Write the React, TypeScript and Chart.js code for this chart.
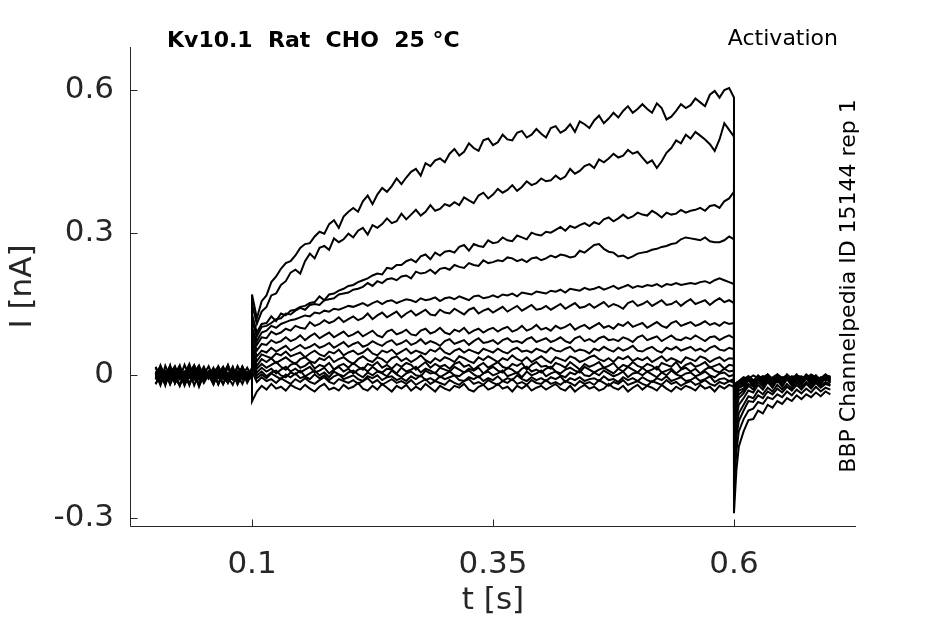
import { useEffect, useRef } from "react";
import { Chart, registerables } from "chart.js";

Chart.register(...registerables);

// sample times (s); 0.1 and 0.6 appear twice for the step edges
const times = [
  0, 0.005, 0.01, 0.015, 0.02, 0.025, 0.03, 0.035, 0.04, 0.045,
  0.05, 0.055, 0.06, 0.065, 0.07, 0.075, 0.08, 0.085, 0.09, 0.095, 0.1,
  0.1,
  0.105, 0.11, 0.115, 0.12, 0.125, 0.13, 0.135, 0.14, 0.145, 0.15,
  0.155, 0.16, 0.165, 0.17, 0.175, 0.18, 0.185, 0.19, 0.195, 0.2,
  0.205, 0.21, 0.215, 0.22, 0.225, 0.23, 0.235, 0.24, 0.245, 0.25,
  0.255, 0.26, 0.265, 0.27, 0.275, 0.28, 0.285, 0.29, 0.295, 0.3,
  0.305, 0.31, 0.315, 0.32, 0.325, 0.33, 0.335, 0.34, 0.345, 0.35,
  0.355, 0.36, 0.365, 0.37, 0.375, 0.38, 0.385, 0.39, 0.395, 0.4,
  0.405, 0.41, 0.415, 0.42, 0.425, 0.43, 0.435, 0.44, 0.445, 0.45,
  0.455, 0.46, 0.465, 0.47, 0.475, 0.48, 0.485, 0.49, 0.495, 0.5,
  0.505, 0.51, 0.515, 0.52, 0.525, 0.53, 0.535, 0.54, 0.545, 0.55,
  0.555, 0.56, 0.565, 0.57, 0.575, 0.58, 0.585, 0.59, 0.595, 0.6,
  0.6,
  0.6025, 0.605, 0.61, 0.615, 0.62, 0.625, 0.63, 0.635, 0.64, 0.645,
  0.65, 0.655, 0.66, 0.665, 0.67, 0.675, 0.68, 0.685, 0.69, 0.695, 0.7,
];

// current traces in pA, same order as times
const sweep01 = [
  6, -16, 20, -4, 9, -22, 3, 24, -8, 1,
  17, -6, 8, -19, 4, 21, -2, -14, 7, -3, 16,
  170,
  120, 156, 168, 196, 208, 224, 236, 240, 252, 268,
  276, 278, 292, 302, 298, 318, 326, 310, 334, 344,
  352, 344, 366, 378, 360, 380, 394, 386, 398, 414,
  402, 416, 428, 434, 420, 446, 440, 452, 456, 448,
  466, 476, 462, 470, 488, 478, 472, 494, 498, 484,
  490, 506, 496, 494, 510, 514, 500, 506, 518, 508,
  500, 520, 524, 510, 516, 528, 512, 534, 528, 520,
  536, 546, 530, 540, 552, 542, 556, 566, 552, 560,
  570, 560, 552, 572, 562, 538, 544, 556, 570, 562,
  568, 582, 574, 566, 590, 598, 584, 600, 604, 584,
  -290,
  -200, -150, -118, -94, -92, -74, -80, -62, -68, -54,
  -60, -48, -54, -42, -50, -40, -46, -36, -44, -34, -40,
];
const sweep02 = [
  -8, 14, -3, 19, -17, 2, -6, 16, 0, -21,
  5, 8, -14, 3, -4, 22, -7, 1, 9, -16, 4,
  150,
  108, 134, 144, 168, 172, 190, 198, 216, 222, 214,
  240, 256, 246, 268, 272, 264, 288, 280, 286, 298,
  290, 304, 310, 296, 316, 310, 318, 330, 320, 324,
  340, 328, 338, 348, 336, 344, 358, 346, 350, 360,
  356, 364, 358, 374, 368, 362, 378, 384, 372, 380,
  392, 384, 390, 400, 388, 396, 408, 400, 404, 414,
  408, 410, 420, 412, 418, 434, 424, 430, 440, 444,
  436, 454, 448, 456, 466, 458, 462, 474, 466, 470,
  458, 446, 452, 436, 450, 468, 478, 494, 488, 506,
  498, 512, 504, 496, 486, 472, 496, 530, 516, 502,
  -235,
  -160, -118, -92, -74, -70, -56, -60, -46, -50, -40,
  -46, -34, -42, -30, -38, -28, -36, -24, -34, -26, -30,
];
const sweep03 = [
  9, -5, 7, -19, 3, 16, -8, 2, 21, -3,
  -7, 6, -16, 4, 18, -2, -9, 8, -4, 1, -6,
  128,
  90, 108, 110, 124, 114, 130, 126, 136, 138, 144,
  146, 152, 154, 166, 158, 170, 172, 178, 182, 188,
  190, 196, 200, 204, 210, 214, 212, 226, 224, 232,
  232, 240, 244, 238, 250, 254, 244, 258, 252, 260,
  262, 258, 270, 274, 262, 276, 272, 270, 284, 278,
  280, 290, 284, 282, 294, 290, 286, 300, 296, 294,
  302, 300, 306, 312, 304, 314, 310, 316, 320, 314,
  322, 318, 328, 332, 324, 330, 338, 330, 334, 342,
  338, 336, 346, 340, 332, 342, 338, 340, 348, 342,
  346, 348, 352, 346, 356, 358, 352, 366, 372, 386,
  -195,
  -130, -96, -74, -54, -56, -42, -48, -34, -40, -28,
  -36, -24, -32, -20, -30, -18, -28, -16, -26, -18, -22,
];
const sweep04 = [
  -18, 4, -5, 9, -2, -21, 7, -4, 16, -9,
  2, 19, -6, 0, 8, -16, 5, -3, 18, -7, 1,
  115,
  82, 102, 104, 110, 118, 120, 130, 128, 136, 142,
  138, 148, 150, 148, 158, 160, 162, 170, 172, 174,
  180, 182, 186, 194, 188, 198, 194, 202, 204, 200,
  208, 210, 204, 218, 214, 216, 222, 214, 224, 226,
  222, 232, 228, 226, 236, 232, 230, 242, 236, 238,
  242, 240, 248, 246, 240, 244, 238, 246, 248, 242,
  246, 252, 248, 254, 252, 248, 250, 262, 258, 266,
  274, 276, 266, 260, 258, 250, 252, 246, 250, 256,
  258, 260, 264, 266, 270, 272, 276, 278, 286, 290,
  288, 286, 284, 290, 282, 280, 280, 284, 292, 286,
  -165,
  -110, -80, -62, -44, -48, -32, -40, -26, -34, -20,
  -30, -18, -28, -14, -26, -14, -24, -12, -22, -14, -20,
];
const sweep05 = [
  3, 19, -8, 5, -6, 17, -1, -16, 6, 21,
  -4, 2, -19, 8, -3, 16, -7, 4, -9, 7, -2,
  100,
  72, 90, 94, 104, 100, 108, 112, 116, 118, 122,
  126, 124, 132, 130, 136, 134, 140, 138, 142, 146,
  144, 148, 152, 146, 152, 156, 150, 156, 158, 152,
  156, 160, 158, 154, 162, 158, 160, 164, 156, 162,
  164, 160, 166, 162, 158, 166, 168, 162, 164, 168,
  164, 170, 168, 172, 166, 174, 172, 170, 176, 174,
  172, 178, 176, 180, 174, 182, 180, 178, 184, 180,
  182, 186, 180, 184, 188, 182, 186, 190, 184, 188,
  186, 190, 188, 192, 186, 192, 190, 194, 190, 192,
  194, 192, 196, 198, 194, 200, 204, 200, 196, 192,
  -135,
  -90, -62, -48, -32, -36, -20, -30, -14, -26, -10,
  -24, -8, -22, -8, -20, -6, -20, -8, -18, -6, -16,
];
const sweep06 = [
  -4, 7, -21, 16, 1, -7, 22, -2, -9, 5,
  8, -5, 3, -18, 9, 0, -6, 19, -3, 6, -8,
  92,
  64, 80, 78, 92, 86, 90, 98, 94, 104, 100,
  98, 112, 104, 108, 116, 110, 114, 122, 112, 118,
  124, 116, 120, 130, 118, 126, 132, 122, 128, 134,
  122, 130, 136, 126, 132, 138, 128, 126, 138, 132,
  130, 140, 134, 128, 138, 142, 130, 136, 140, 132,
  138, 144, 134, 140, 146, 136, 142, 148, 138, 140,
  146, 138, 144, 150, 140, 146, 152, 142, 144, 150,
  142, 148, 154, 144, 150, 146, 140, 152, 156, 146,
  150, 156, 146, 152, 158, 148, 150, 156, 146, 154,
  160, 150, 154, 158, 148, 156, 162, 154, 158, 152,
  -112,
  -72, -48, -38, -22, -30, -14, -24, -8, -22, -6,
  -20, -4, -18, -6, -18, -4, -16, -6, -16, -4, -14,
];
const sweep07 = [
  16, -6, 4, -18, 8, 0, -5, 19, -8, 7,
  -2, 5, -16, 2, 9, -4, -20, 6, 1, -7, 3,
  82,
  52, 66, 64, 74, 68, 72, 80, 72, 76, 84,
  74, 82, 88, 78, 84, 90, 80, 86, 92, 82,
  86, 92, 82, 88, 94, 84, 80, 92, 96, 86,
  90, 96, 86, 84, 94, 98, 88, 92, 100, 90,
  86, 96, 92, 100, 88, 94, 98, 90, 96, 100,
  92, 98, 102, 92, 96, 104, 94, 98, 106, 96,
  100, 94, 104, 98, 102, 108, 96, 102, 106, 98,
  104, 110, 100, 104, 98, 108, 104, 112, 102, 106,
  110, 100, 106, 112, 104, 100, 110, 114, 104, 108,
  112, 104, 108, 114, 106, 110, 104, 112, 108, 110,
  -95,
  -60, -40, -32, -18, -24, -8, -20, -6, -18, -2,
  -16, -4, -14, -2, -14, -6, -12, -2, -14, -4, -12,
];
const sweep08 = [
  -8, 21, -4, 6, -16, 9, 2, -19, 5, -1,
  18, -7, 3, -5, 16, -9, 4, 0, -18, 7, -3,
  72,
  40, 52, 48, 58, 50, 56, 62, 52, 58, 64,
  56, 60, 66, 58, 62, 68, 58, 64, 70, 60,
  66, 70, 60, 64, 72, 66, 62, 70, 74, 64,
  68, 74, 64, 68, 76, 66, 72, 68, 62, 72,
  76, 66, 70, 74, 64, 72, 78, 68, 70, 74,
  66, 74, 78, 70, 72, 68, 76, 80, 70, 74,
  78, 70, 74, 80, 72, 68, 78, 82, 72, 76,
  70, 78, 82, 74, 76, 72, 80, 76, 70, 80,
  84, 74, 78, 82, 72, 78, 84, 76, 74, 80,
  76, 84, 78, 72, 80, 82, 74, 80, 84, 78,
  -78,
  -50, -32, -28, -10, -22, -6, -18, -2, -16, -4,
  -14, 0, -12, -4, -12, -2, -14, -4, -10, 0, -10,
];
const sweep09 = [
  5, -16, 8, -3, 18, -7, 4, -21, 9, -5,
  2, 7, -8, 19, -2, -6, 16, -18, 3, 6, -4,
  60,
  30, 44, 40, 36, 46, 42, 50, 40, 44, 48,
  38, 46, 52, 44, 40, 50, 46, 54, 42, 48,
  52, 44, 48, 56, 46, 42, 52, 48, 54, 44,
  50, 56, 46, 52, 48, 44, 54, 50, 58, 48,
  44, 52, 56, 48, 54, 50, 46, 56, 52, 48,
  56, 50, 46, 54, 58, 50, 52, 48, 56, 52,
  48, 58, 52, 50, 56, 60, 50, 54, 52, 46,
  56, 52, 60, 54, 50, 58, 52, 56, 62, 52,
  50, 56, 60, 52, 48, 58, 54, 60, 52, 56,
  60, 52, 56, 50, 58, 62, 54, 52, 58, 55,
  -62,
  -40, -26, -22, -8, -18, -2, -14, -6, -12, 0,
  -14, -4, -10, 2, -12, -4, -10, 0, -12, -2, -8,
];
const sweep10 = [
  -19, 3, 9, -6, 2, 21, -9, 6, -4, 16,
  -7, 1, 8, -18, 4, -2, 18, -8, 5, -5, 0,
  50,
  20, 34, 28, 36, 26, 32, 38, 30, 24, 34,
  38, 30, 26, 36, 32, 40, 28, 34, 38, 30,
  24, 34, 40, 32, 28, 38, 34, 26, 36, 40,
  30, 36, 28, 34, 42, 32, 26, 36, 30, 38,
  34, 28, 40, 36, 30, 26, 38, 32, 40, 34,
  28, 36, 32, 42, 34, 30, 38, 28, 34, 40,
  32, 26, 38, 34, 30, 40, 36, 28, 32, 38,
  42, 34, 30, 36, 28, 38, 34, 40, 30, 36,
  32, 38, 28, 34, 40, 30, 36, 32, 26, 38,
  34, 30, 40, 36, 28, 34, 38, 30, 36, 35,
  -52,
  -32, -22, -18, -4, -14, -8, -12, 0, -10, -6,
  -12, 2, -8, -4, -12, 0, -8, -6, -10, 0, -6,
];
const sweep11 = [
  7, -4, -18, 5, 19, -8, 1, 9, -21, 4,
  6, -2, 16, -6, 3, -9, 8, -3, 18, -5, 2,
  40,
  14, 24, 16, 22, 28, 18, 12, 22, 26, 16,
  20, 28, 14, 22, 18, 26, 12, 20, 24, 16,
  26, 18, 12, 24, 20, 28, 16, 22, 14, 24,
  18, 26, 22, 12, 20, 28, 16, 24, 18, 22,
  14, 24, 28, 18, 22, 12, 20, 26, 16, 22,
  28, 18, 14, 24, 20, 26, 12, 22, 28, 18,
  20, 14, 26, 22, 16, 28, 20, 12, 24, 18,
  22, 28, 16, 20, 26, 14, 22, 18, 28, 20,
  16, 24, 20, 12, 26, 22, 18, 28, 14, 22,
  26, 18, 22, 28, 16, 20, 24, 14, 22, 20,
  -45,
  -28, -18, -14, -2, -12, -6, -10, 2, -8, -4,
  -12, 0, -6, -8, -10, 2, -6, -4, -10, 0, -4,
];
const sweep12 = [
  -3, 16, -7, 21, -16, 3, 8, -5, 1, -19,
  9, -4, 6, 18, -8, 2, -6, 19, -1, -9, 5,
  32,
  6, 16, 8, 14, 4, 12, 18, 8, 14, 6,
  12, 18, 6, 10, 16, 4, 12, 18, 8, 14,
  4, 12, 16, 8, 18, 10, 6, 14, 12, 4,
  16, 8, 12, 18, 6, 14, 10, 4, 16, 12,
  8, 18, 12, 6, 14, 10, 16, 4, 12, 18,
  10, 6, 16, 12, 4, 14, 18, 8, 12, 6,
  14, 18, 8, 4, 12, 16, 10, 6, 18, 12,
  6, 12, 16, 10, 4, 14, 8, 18, 12, 6,
  16, 8, 12, 18, 6, 10, 14, 4, 12, 16,
  8, 14, 4, 12, 18, 10, 6, 14, 8, 10,
  -38,
  -24, -16, -10, -6, -12, 0, -8, -4, -10, 2,
  -6, -8, -4, 0, -10, -4, -2, -8, -6, 2, -6,
];
const sweep13 = [
  18, -5, 4, -9, 7, -2, -18, 6, 21, -7,
  -4, 9, -1, 5, -19, 3, 8, -6, 0, 16, -3,
  25,
  0, 8, -2, 6, 10, 0, -4, 6, 2, 10,
  -2, 4, 10, 0, 6, -4, 8, 2, -2, 6,
  10, 2, -4, 6, 0, 8, 4, -2, 10, 2,
  -4, 4, 8, 0, -2, 10, 4, 6, -4, 2,
  8, 0, -2, 6, 10, 2, -4, 4, 8, 0,
  4, 10, -2, 2, 6, -4, 8, 0, 4, 10,
  -2, 4, 8, 0, -4, 6, 2, 10, 0, -2,
  6, 0, 10, 4, -2, 2, 8, -4, 4, 6,
  0, 8, 2, -4, 6, 0, 10, 2, -2, 4,
  6, -2, 2, 8, 0, -4, 4, 6, -2, 1,
  -32,
  -20, -14, -8, -2, -10, -6, -4, 2, -8, -2,
  -6, 0, -10, -4, -2, -8, 0, -4, -8, -2, -2,
];
const sweep14 = [
  -9, 6, 1, 19, -6, -21, 4, 16, -3, 7,
  -16, 2, -5, 9, -1, -8, 5, -19, 3, 0, -7,
  18,
  -6, 2, -6, 4, -2, -8, 2, -4, 4, -6,
  -2, -8, 2, -6, 0, -10, -2, 2, -8, -4,
  0, -8, -12, -2, -6, 0, -10, -4, -2, -10,
  -6, -12, -2, -8, 0, -10, -6, -12, -2, -8,
  -4, 0, -10, -12, -4, -8, -2, -12, -6, -10,
  -2, -12, -6, -10, 0, -8, -12, -4, -10, -6,
  -12, -4, -8, -2, -14, -6, -10, -4, -12, -8,
  -6, -12, -2, -10, -8, -14, -4, -10, -6, -12,
  -4, -10, -14, -6, -10, -2, -12, -8, -4, -12,
  -10, -4, -12, -8, -2, -14, -8, -6, -12, -8,
  -26,
  -16, -12, -4, -8, 0, -6, -2, -10, -4, 2,
  -6, -2, -8, 0, -4, -6, 2, -4, -8, -2, -4,
];
const sweep15 = [
  4, -21, 8, -7, 3, 18, -16, -4, 7, -24,
  1, -6, 9, -2, -18, 5, -8, 2, 16, -5, -1,
  8,
  -14, -4, -12, -8, -16, -6, -12, -18, -8, -14,
  -6, -14, -18, -10, -4, -14, -18, -8, -12, -16,
  -10, -18, -12, -6, -16, -10, -20, -14, -8, -16,
  -12, -18, -10, -20, -14, -8, -18, -12, -16, -20,
  -10, -16, -20, -12, -8, -18, -14, -20, -10, -16,
  -20, -12, -16, -8, -18, -14, -20, -10, -16, -18,
  -10, -18, -14, -20, -12, -16, -22, -12, -18, -14,
  -20, -10, -16, -22, -14, -18, -10, -20, -16, -12,
  -18, -22, -12, -16, -20, -10, -18, -14, -22, -16,
  -12, -20, -16, -10, -18, -22, -14, -18, -12, -15,
  -22,
  -16, -14, -10, -4, -12, -8, -2, -10, -6, -12,
  -4, -8, -2, -10, -6, -4, -10, -2, -8, -6, -6,
];
const sweep16 = [
  -5, 9, -18, 2, -8, 6, -22, 3, -6, 16,
  -9, 1, -19, 7, -3, -16, 4, -7, 18, -2, -8,
  -55,
  -34, -22, -30, -18, -28, -24, -32, -20, -26, -30,
  -20, -28, -34, -24, -18, -30, -26, -32, -20, -28,
  -24, -16, -28, -32, -22, -30, -18, -26, -34, -22,
  -28, -20, -32, -24, -30, -18, -26, -34, -22, -28,
  -32, -22, -26, -18, -30, -34, -24, -20, -30, -26,
  -18, -28, -24, -34, -22, -28, -20, -32, -26, -22,
  -30, -24, -18, -28, -32, -22, -34, -26, -20, -28,
  -24, -32, -28, -18, -26, -30, -22, -34, -26, -20,
  -30, -22, -26, -32, -20, -28, -34, -24, -30, -22,
  -26, -32, -20, -28, -24, -34, -22, -28, -20, -24,
  -20,
  -16, -14, -18, -10, -16, -8, -14, -12, -6, -14,
  -10, -4, -12, -8, -14, -6, -10, -12, -4, -10, -8,
];

const sweeps = [
  sweep01, sweep02, sweep03, sweep04, sweep05, sweep06, sweep07, sweep08,
  sweep09, sweep10, sweep11, sweep12, sweep13, sweep14, sweep15, sweep16,
];

const xTicks = [0.1, 0.35, 0.6];
const yTicks = [-0.3, 0, 0.3, 0.6];

const titleText = "Kv10.1  Rat  CHO  25 °C";
const protocolText = "Activation";
const sourceText = "BBP Channelpedia ID 15144 rep 1";

const axisColor = "#262626";
const fontFamily = "'DejaVu Sans', sans-serif";

// axis lines, inward ticks and the loose labels round the plot
const decorations = {
  id: "decorations",
  afterDraw(chart: any) {
    const { ctx, chartArea: area, scales } = chart;
    ctx.save();
    ctx.strokeStyle = axisColor;
    ctx.lineWidth = 1;
    ctx.beginPath();
    const left = Math.round(area.left) + 0.5;
    const bottom = Math.round(area.bottom) + 0.5;
    ctx.moveTo(left, area.top);
    ctx.lineTo(left, bottom);
    ctx.lineTo(area.right, bottom);
    xTicks.forEach((v) => {
      const px = Math.round(scales.x.getPixelForValue(v)) + 0.5;
      ctx.moveTo(px, bottom);
      ctx.lineTo(px, bottom - 7);
    });
    yTicks.forEach((v) => {
      const py = Math.round(scales.y.getPixelForValue(v)) + 0.5;
      ctx.moveTo(left, py);
      ctx.lineTo(left + 7, py);
    });
    ctx.stroke();

    ctx.fillStyle = "#000";
    ctx.textBaseline = "middle";
    ctx.font = `bold 22px ${fontFamily}`;
    ctx.textAlign = "left";
    ctx.fillText(titleText, 167, 41);
    ctx.font = `22px ${fontFamily}`;
    ctx.textAlign = "right";
    ctx.fillText(protocolText, 838, 39);
    ctx.translate(849, 286);
    ctx.rotate(-Math.PI / 2);
    ctx.textAlign = "center";
    ctx.fillText(sourceText, 0, 0);
    ctx.restore();
  },
};

export default function App() {
  const canvasRef = useRef<HTMLCanvasElement | null>(null);

  useEffect(() => {
    document.body.style.margin = "0";
    if (!canvasRef.current) return;

    const chart = new Chart(canvasRef.current, {
      type: "line",
      data: {
        datasets: sweeps.map((sweep) => ({
          data: times.map((t, i) => ({ x: t, y: sweep[i] / 1000 })),
          borderColor: "#000",
          borderWidth: 2,
          pointRadius: 0,
          tension: 0,
          fill: false,
        })),
      },
      options: {
        animation: false,
        responsive: true,
        maintainAspectRatio: false,
        layout: { padding: { left: 0, right: 89, top: 47, bottom: 0 } },
        plugins: {
          legend: { display: false },
          tooltip: { enabled: false },
        },
        scales: {
          x: {
            type: "linear",
            min: -0.0266,
            max: 0.7266,
            afterFit: (scale: any) => {
              scale.height = 98;
            },
            afterBuildTicks: (scale: any) => {
              scale.ticks = xTicks.map((value) => ({ value }));
            },
            grid: { display: false, drawTicks: false },
            border: { display: false },
            ticks: {
              color: axisColor,
              font: { family: fontFamily, size: 31 },
              padding: 20,
              maxRotation: 0,
              callback: (v: any) => String(v),
            },
            title: {
              display: true,
              text: "t [s]",
              color: axisColor,
              font: { family: fontFamily, size: 31 },
            },
          },
          y: {
            min: -0.3168,
            max: 0.6904,
            afterFit: (scale: any) => {
              scale.width = 130;
            },
            afterBuildTicks: (scale: any) => {
              scale.ticks = yTicks.map((value) => ({ value }));
            },
            grid: { display: false, drawTicks: false },
            border: { display: false },
            ticks: {
              color: axisColor,
              font: { family: fontFamily, size: 31 },
              padding: 16,
              callback: (v: any) => String(v),
            },
            title: {
              display: true,
              text: "I [nA]",
              color: axisColor,
              font: { family: fontFamily, size: 31 },
            },
          },
        },
      },
      plugins: [decorations],
    });

    return () => {
      chart.destroy();
    };
  }, []);

  return (
    <div style={{ width: 945, height: 624, position: "relative" }}>
      <canvas ref={canvasRef} />
    </div>
  );
}
